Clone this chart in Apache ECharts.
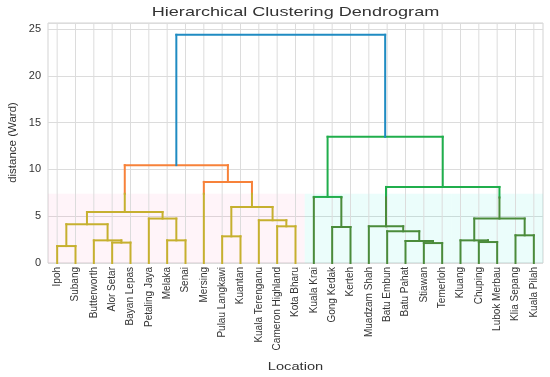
<!DOCTYPE html>
<html><head><meta charset="utf-8">
<script src="https://cdn.jsdelivr.net/npm/echarts@6/dist/echarts.min.js"></script>
<style>html,body{margin:0;padding:0;background:#fff}#c{width:550px;height:377px}</style>
</head><body><div id="c"></div>
<script>
const locations = ['Ipoh','Subang','Butterworth','Alor Setar','Bayan Lepas','Petaling Jaya','Melaka','Senai','Mersing','Pulau Langkawi','Kuantan','Kuala Terenganu','Cameron Highland','Kota Bharu','Kuala Krai','Gong Kedak','Kerteh','Muadzam Shah','Batu Embun','Batu Pahat','Stiawan','Temerloh','Kluang','Chuping','Lubok Merbau','Klia Sepang','Kuala Pilah'];
// linkage rows: node ids < 27 are leaves, node 27+k is the k-th merge
const mergeLeft  = [0,3,2,27,6,5,30,9,12,11,34,8,33,15,14,20,19,18,17,23,22,25,47,45,41,39];
const mergeRight = [1,4,28,29,7,31,32,10,13,35,36,37,38,16,40,21,42,43,44,24,46,26,48,49,50,51];
const mergeDistance = [1.81,2.18,2.42,4.14,2.42,4.75,5.45,2.85,3.92,4.57,5.99,8.67,10.46,3.85,7.06,2.13,2.35,3.39,3.92,2.24,2.42,2.96,4.75,8.13,13.49,24.39];
const yTicks = [0,5,10,15,20,25];
const colorCut = {a:7.4, b:7.0};
const shadeCut = 7.4;

const N = locations.length;
const FONT = '"Liberation Sans", Arial, sans-serif';
const pal = {top:'#1f8bc2', aHi:'#f7823a', aLo:'#c6b02f', bHi:'#20ae4c', bLo:'#4b8b3b'};
const shadeCol = {a:'rgba(255,110,180,0.08)', b:'rgba(0,225,200,0.08)'};

// positions
const nx = [], nh = [], lo = [], hi = [];
for (let i = 0; i < N; i++) { nx[i] = 10*i+5; nh[i] = 0; lo[i] = i; hi[i] = i; }
mergeLeft.forEach((l, k) => {
  const r = mergeRight[k], id = N + k;
  nx[id] = (nx[l] + nx[r]) / 2; nh[id] = mergeDistance[k];
  lo[id] = Math.min(lo[l], lo[r]); hi[id] = Math.max(hi[l], hi[r]);
});
const root = N + mergeLeft.length - 1;
const group = {};
function assign(node, g) { group[node] = g; if (node >= N) { assign(mergeLeft[node-N], g); assign(mergeRight[node-N], g); } }
assign(mergeLeft[root-N], 'a'); assign(mergeRight[root-N], 'b'); group[root] = 'top';

const segs = [];
function leg(x, yTop, yBot, g) {
  if (g === 'top') { segs.push([x, yTop, x, yBot, 'top']); return; }
  const cut = colorCut[g];
  if (yTop > cut && yBot < cut) {
    segs.push([x, yTop, x, cut, g+'Hi']); segs.push([x, cut, x, yBot, g+'Lo']);
  } else segs.push([x, yTop, x, yBot, g + (yTop > cut ? 'Hi' : 'Lo')]);
}
const shades = [];
mergeLeft.forEach((l, k) => {
  const r = mergeRight[k], id = N + k, g = group[id], h = nh[id];
  const hc = g === 'top' ? 'top' : g + (h > colorCut[g] ? 'Hi' : 'Lo');
  segs.push([nx[l], h, nx[r], h, hc]);
  leg(nx[l], h, nh[l], g);
  leg(nx[r], h, nh[r], g);
  [l, r].forEach(c => { if (g !== 'top' && h > shadeCut && nh[c] < shadeCut) shades.push([lo[c]*10, hi[c]*10+10, group[c]]); });
});

const chart = echarts.init(document.getElementById('c'), null, {renderer:'canvas'});
chart.setOption({
  animation: false,
  grid: {left:48, right:7, top:23, bottom:114, show:true, borderColor:'#d3d3d3', borderWidth:1, backgroundColor:'#fff'},
  xAxis: [
    {type:'category', data: locations, boundaryGap:true, gridIndex:0,
     axisLine:{show:false}, axisTick:{show:false}, splitLine:{show:false},
     axisLabel:{rotate:90, interval:0, fontSize:10, color:'#333', margin:4, fontFamily:FONT}},
    {type:'value', min:0, max:N*10, show:false, gridIndex:0}
  ],
  yAxis: {type:'value', min:0, max:25.65, interval:5,
    axisLine:{show:false}, axisTick:{show:false},
    splitLine:{lineStyle:{color:'#dcdcdc', width:1}},
    axisLabel:{fontSize:11, color:'#333', margin:7, fontFamily:FONT,
      formatter: v => yTicks.includes(v) ? String(v) : ''}},
  series: [
    {type:'custom', xAxisIndex:1, z:1, silent:true,
     data: shades.map(s => [s[0], 0, s[1], shadeCut]),
     encode:{x:[0,2], y:[1,3]},
     renderItem: (p, api) => {
       const a = api.coord([api.value(0), api.value(3)]), b = api.coord([api.value(2), api.value(1)]);
       const g = shades[p.dataIndex][2];
       return {type:'rect', shape:{x:a[0], y:a[1], width:b[0]-a[0], height:b[1]-a[1]}, style:{fill: shadeCol[g]}};
     }},
    {type:'custom', xAxisIndex:1, z:2, silent:true,
     data: locations.map((_, i) => [nx[i], 0]),
     encode:{x:0, y:1},
     renderItem: (p, api) => {
       const cs = p.coordSys; const x = api.coord([api.value(0), 0])[0];
       return {type:'line', shape:{x1:x, y1:cs.y, x2:x, y2:cs.y+cs.height}, style:{stroke:'#dcdcdc', lineWidth:1}};
     }},
    {type:'custom', xAxisIndex:1, z:5, silent:true,
     data: segs.map(s => [s[0], s[1], s[2], s[3]]),
     encode:{x:[0,2], y:[1,3]},
     renderItem: (p, api) => {
       const a = api.coord([api.value(0), api.value(1)]), b = api.coord([api.value(2), api.value(3)]);
       return {type:'line', shape:{x1:a[0], y1:a[1], x2:b[0], y2:b[1]},
               style:{stroke: pal[segs[p.dataIndex][4]], lineWidth:2, lineCap:'square'}};
     }}
  ],
  graphic: [
    {type:'text', x:295.5, y:12, scaleX:1.34, silent:true,
     style:{text:'Hierarchical Clustering Dendrogram', font:'13.5px ' + FONT, fill:'#333', textAlign:'center', textVerticalAlign:'middle', align:'center', verticalAlign:'middle'}},
    {type:'text', x:295.5, y:366.5, scaleX:1.33, silent:true,
     style:{text:'Location', font:'11px ' + FONT, fill:'#333', textAlign:'center', textVerticalAlign:'middle', align:'center', verticalAlign:'middle'}},
    {type:'text', x:13, y:142.5, rotation:Math.PI/2, silent:true,
     style:{text:'distance (Ward)', font:'11.5px ' + FONT, fill:'#333', textAlign:'center', textVerticalAlign:'middle', align:'center', verticalAlign:'middle'}}
  ]
});
</script></body></html>
